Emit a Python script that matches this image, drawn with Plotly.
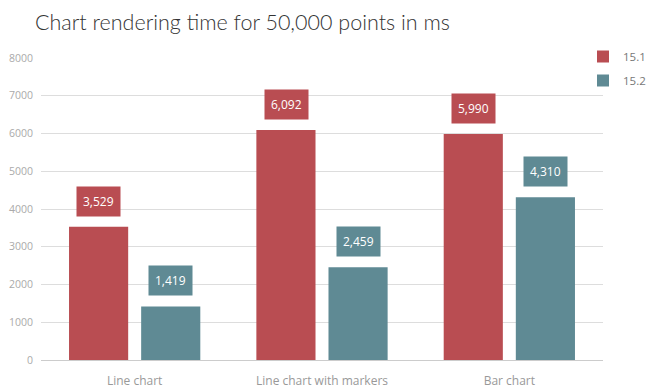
import plotly.graph_objects as go

categories = ["Line chart", "Line chart with markers", "Bar chart"]
series_names = ["15.1", "15.2"]
values_151 = [3529, 6092, 5990]
values_152 = [1419, 2459, 4310]
colors = ["#B94D52", "#5F8A94"]

# page body has an 8px default margin; figure coords = screen coords - 8
W, H = 648, 380
L, T = 33, 50
R, B = W - 595, H - 352
pw, ph = W - L - R, H - T - B

fig = go.Figure()
for i, (name, vals, col) in enumerate(zip(series_names, [values_151, values_152], colors)):
    fig.add_trace(go.Bar(x=categories, y=vals, name=name, marker_color=col,
                         marker_line_width=0,
                         legend="legend" if i == 0 else "legend2"))

shifts = [-36, 36]
for vals, col, sh in zip([values_151, values_152], colors, shifts):
    for c, v in zip(categories, vals):
        fig.add_annotation(x=c, y=v, text=f"{v:,}", showarrow=False,
                           xshift=sh, yshift=10, yanchor="bottom",
                           bgcolor=col, borderpad=6,
                           font=dict(family="Open Sans", size=12, color="white"))

fig.add_annotation(text="Chart rendering time for 50,000 points in ms",
                   xref="paper", yref="paper", x=(26 - L) / pw, xanchor="left",
                   y=1 + T / ph, yanchor="top", showarrow=False, borderpad=0,
                   font=dict(family="Lato", size=21.5, color="#333333", weight=300))

leg_common = dict(xanchor="right", yanchor="top", itemwidth=30,
                  font=dict(family="Open Sans", size=11.5, color="#777777"),
                  bgcolor="rgba(0,0,0,0)")
lx = (643 - L) / pw
fig.update_layout(
    width=W, height=H,
    margin=dict(l=L, r=R, t=T, b=B, autoexpand=False),
    paper_bgcolor="white", plot_bgcolor="white",
    barmode="group", bargap=0.23, bargroupgap=0.18,
    showlegend=True,
    legend=dict(x=lx, y=(H - B - 34) / ph, **leg_common),
    legend2=dict(x=lx, y=(H - B - 58) / ph, **leg_common),
    xaxis=dict(showgrid=False, showline=False, ticks="outside", ticklen=10,
               tickcolor="rgba(0,0,0,0)",
               tickfont=dict(family="Open Sans", size=12, color="#999999")),
    yaxis=dict(range=[0, 8000], dtick=1000, tickformat="d",
               showgrid=True, gridcolor="#dddddd", gridwidth=1,
               zeroline=True, zerolinecolor="#cccccc", zerolinewidth=1,
               ticks="outside", ticklen=5, tickcolor="rgba(0,0,0,0)",
               tickfont=dict(family="Open Sans", size=10.5, color="#aaaaaa")),
)

fig.write_html("out.html")
